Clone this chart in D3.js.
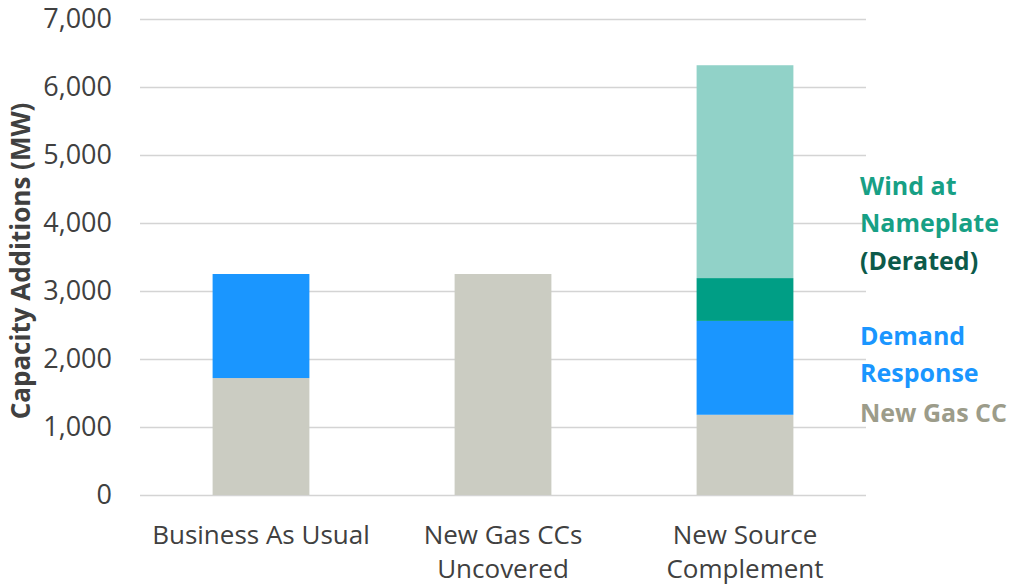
<!DOCTYPE html>
<head>
  <meta charset="utf-8">
  <script src="https://d3js.org/d3.v7.min.js"></script>
  <style>
    body { margin: 0; background: #fff; }
    text { font-family: "Open Sans", sans-serif; }
  </style>
</head>
<body>
<script>
// scenarios on the x axis
var categories = [["Business As Usual"], ["New Gas CCs", "Uncovered"], ["New Source", "Complement"]];
var keys = ["gas", "dr", "derated", "nameplate"];
// MW per scenario, per segment
var gasCC      = [1720, 3250, 1180];
var demandResp = [1530, 0, 1380];
var windDerated = [0, 0, 630];
var windNameplate = [0, 0, 3130];
var yTicks = [0, 1000, 2000, 3000, 4000, 5000, 6000, 7000];

var colors = { gas: "#cbccc2", dr: "#1a96ff", derated: "#009e85", nameplate: "#91d2c8" };

var w = 1013, h = 588;
var plotLeft = 140, plotRight = 866, plotTop = 19, plotBottom = 495;

var rows = categories.map(function(c, i) {
  return { id: i, gas: gasCC[i], dr: demandResp[i], derated: windDerated[i], nameplate: windNameplate[i] };
});

var svg = d3.select("body").append("svg").attr("width", w).attr("height", h);

var x = d3.scaleBand().domain(d3.range(categories.length)).range([plotLeft, plotRight])
  .paddingInner(0.6).paddingOuter(0.3);
var y = d3.scaleLinear().domain([0, 7000]).range([plotBottom, plotTop]);

// gridlines
svg.append("g").selectAll("line").data(yTicks).enter().append("line")
  .attr("x1", plotLeft).attr("x2", plotRight)
  .attr("y1", function(d) { return y(d) + 0.5; })
  .attr("y2", function(d) { return y(d) + 0.5; })
  .attr("stroke", "#d4d4d4").attr("stroke-width", 1.3);

// y labels
var yAxis = d3.axisLeft(y).tickValues(yTicks).tickFormat(d3.format(",")).tickSize(0).tickPadding(28);
var ya = svg.append("g").attr("transform", "translate(" + plotLeft + ",0)").call(yAxis);
ya.select(".domain").remove();
ya.selectAll("text").attr("font-size", 27).attr("fill", "#404040")
  .style("font-family", "'Open Sans', sans-serif");

// stacked bars
var stacked = d3.stack().keys(keys)(rows);
svg.append("g").selectAll("g").data(stacked).enter().append("g")
  .attr("fill", function(d) { return colors[d.key]; })
  .selectAll("rect").data(function(d) { return d; }).enter().append("rect")
  .attr("x", function(d) { return x(d.data.id); })
  .attr("width", x.bandwidth())
  .attr("y", function(d) { return y(d[1]); })
  .attr("height", function(d) { return y(d[0]) - y(d[1]); });

// category labels
var cat = svg.append("g").selectAll("text").data(categories).enter().append("text")
  .attr("x", function(d, i) { return x(i) + x.bandwidth() / 2; })
  .attr("y", 544)
  .attr("text-anchor", "middle").attr("font-size", 26).attr("fill", "#404040");
cat.selectAll("tspan").data(function(d) { return d; }).enter().append("tspan")
  .attr("x", function() { return d3.select(this.parentNode).attr("x"); })
  .attr("dy", function(d, i) { return i ? 34 : 0; })
  .text(function(d) { return d; });

// axis title
svg.append("text")
  .attr("transform", "translate(30," + ((plotTop + plotBottom) / 2 + 4) + ") rotate(-90)")
  .attr("text-anchor", "middle").attr("font-size", 26).attr("font-weight", "bold")
  .attr("fill", "#404040").text("Capacity Additions (MW)");

// legend labels at right
var legend = [
  { t: "Wind at", y: 195, c: "#17a085" },
  { t: "Nameplate", y: 232, c: "#17a085" },
  { t: "(Derated)", y: 270, c: "#0c5a4a" },
  { t: "Demand", y: 345, c: "#1a96ff" },
  { t: "Response", y: 382, c: "#1a96ff" },
  { t: "New Gas CC", y: 422, c: "#9c9c8a" }
];
svg.append("g").selectAll("text").data(legend).enter().append("text")
  .attr("x", 860).attr("y", function(d) { return d.y; })
  .attr("font-size", 25).attr("font-weight", "bold")
  .attr("fill", function(d) { return d.c; })
  .text(function(d) { return d.t; });
</script>
</body>
